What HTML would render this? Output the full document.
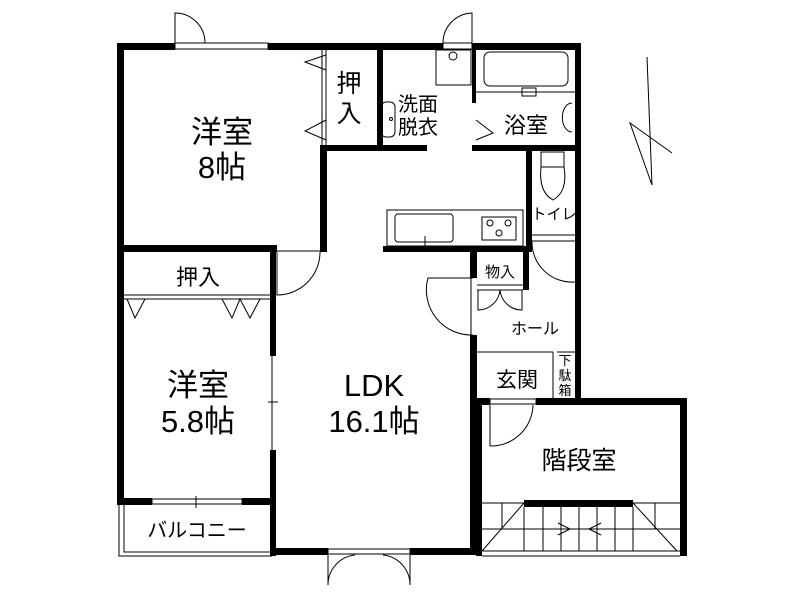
<!DOCTYPE html>
<html><head><meta charset="utf-8"><style>
html,body{margin:0;padding:0;background:#fff;}
svg{display:block;}
text{font-family:"Liberation Sans","Noto Sans CJK JP",sans-serif;fill:#000;}
</style></head><body>
<svg width="800" height="600" viewBox="0 0 800 600" xmlns="http://www.w3.org/2000/svg">
<g fill="#000" stroke="none">
<!-- top wall -->
<rect x="117" y="43" width="58" height="7"/>
<rect x="268" y="43" width="175" height="7"/>
<rect x="472" y="43" width="109" height="7"/>
<!-- left wall -->
<rect x="117" y="43" width="7" height="460"/>
<!-- 8帖 right wall -->
<rect x="320" y="145" width="7" height="107"/>
<!-- closet inner wall -->
<rect x="377" y="43" width="6" height="106"/>
<!-- horiz wall under closet / 洗面 -->
<rect x="320" y="145" width="5" height="6"/>
<rect x="325" y="145" width="102" height="6"/>
<rect x="472" y="145" width="109" height="6"/>
<rect x="472" y="43" width="4" height="60"/>
<!-- right walls -->
<rect x="575" y="43" width="6" height="357"/>
<!-- 洋室8 bottom wall -->
<rect x="117" y="245" width="160" height="7"/>
<!-- 5.8 right wall -->
<rect x="270" y="250" width="6" height="106"/>
<rect x="270" y="450" width="6" height="106"/>
<!-- 5.8 bottom wall -->
<rect x="117" y="498" width="35" height="7"/>
<rect x="242" y="498" width="34" height="7"/>
<!-- LDK bottom -->
<rect x="270" y="548" width="58" height="7"/>
<rect x="410" y="548" width="70" height="7"/>
<!-- LDK right wall -->
<rect x="470" y="250" width="7" height="28"/>
<rect x="470" y="335" width="7" height="220"/>
<!-- kitchen bottom wall -->
<rect x="383" y="246" width="148" height="6"/>
<!-- toilet left wall -->
<rect x="526" y="145" width="6" height="107"/>
<!-- 物入 right -->
<rect x="523" y="250" width="6" height="40"/>
<!-- stair top wall -->
<rect x="476" y="398" width="14" height="7"/>
<rect x="536" y="398" width="150" height="7"/>
<rect x="680" y="398" width="7" height="158"/>
<rect x="476" y="398" width="6" height="158"/>
<!-- stair bar -->
<rect x="524" y="500" width="109" height="7"/>
</g>
<g fill="none" stroke="#000" stroke-width="1">
<!-- top window & doors -->
<rect x="175" y="43" width="93" height="6"/>
<path d="M175 43 V13 A30 30 0 0 1 205 43"/>
<rect x="443" y="43" width="29" height="6"/>
<path d="M472 43 V13 A30 30 0 0 0 443 43"/>
<!-- closet sliding doors 8 -->
<line x1="322" y1="50" x2="322" y2="145"/>
<line x1="326" y1="50" x2="326" y2="145"/>
<path d="M326 55 L305 62 L326 70"/>
<path d="M326 120 L305 131 L326 140"/>
<!-- 洗面 -->
<rect x="436" y="50" width="35" height="35"/>
<circle cx="453" cy="56" r="4"/>
<rect x="381" y="102" width="14" height="35" rx="5"/>
<circle cx="391" cy="119" r="1.5"/>
<line x1="383" y1="147" x2="427" y2="147" stroke-dasharray="1,1"/>
<!-- bath -->
<rect x="484" y="52" width="84" height="34" rx="6"/>
<line x1="476" y1="92" x2="575" y2="92"/>
<rect x="522" y="88" width="14" height="8"/>
<path d="M476 120 L493 133 L476 140"/>
<path d="M572 103 A8 12 0 0 0 572 132"/>
<!-- toilet -->
<path d="M541 152 H564 V167 C567 185 562 195 553 200 C544 195 539 185 541 167 Z"/>
<line x1="541" y1="167" x2="564" y2="167"/>
<line x1="532" y1="235" x2="575" y2="235"/>
<line x1="532" y1="241" x2="575" y2="241"/>
<path d="M532 241 A40 40 0 0 0 575 282"/>
<!-- kitchen -->
<rect x="387" y="210" width="136" height="36"/>
<rect x="395" y="214" width="58" height="28" rx="3"/>
<line x1="425" y1="236" x2="425" y2="246"/>
<rect x="482" y="217" width="34" height="23"/>
<circle cx="490" cy="223" r="3"/><circle cx="508" cy="223" r="3"/><circle cx="499" cy="233" r="3"/>
<!-- 8 room door -->
<line x1="277" y1="251" x2="320" y2="251"/>
<path d="M277 252 V295 A43 43 0 0 0 320 252"/>
<!-- 押入 lower -->
<line x1="124" y1="295" x2="270" y2="295"/>
<line x1="124" y1="299" x2="270" y2="299"/>
<path d="M127 299 L135 318 L145 299"/>
<path d="M222 299 L232 318 L240 299 L250 318 L260 299"/>
<!-- sliding between 5.8 and LDK -->
<line x1="272" y1="356" x2="272" y2="450"/>
<line x1="268" y1="402" x2="278" y2="402"/>
<!-- balcony -->
<rect x="152" y="499" width="90" height="5"/>
<line x1="196" y1="496" x2="196" y2="508"/>
<path d="M124 505 V552 H270"/>
<path d="M119 505 V556 H272"/>
<!-- LDK bottom door -->
<rect x="328" y="549" width="82" height="5"/>
<path d="M328 555 V585 A30 30 0 0 1 355 555"/>
<path d="M410 555 V585 A30 30 0 0 0 383 555"/>
<!-- LDK right door -->
<path d="M473 278 H428 A45 45 0 0 0 473 335"/>
<line x1="471" y1="278" x2="471" y2="335"/>
<!-- 物入 doors -->
<line x1="477" y1="285" x2="523" y2="285"/>
<line x1="477" y1="290" x2="523" y2="290"/>
<path d="M478 290 V310 A22 22 0 0 0 500 290"/>
<path d="M522 290 V310 A22 22 0 0 1 500 290"/>
<!-- hall / entrance -->
<line x1="477" y1="352" x2="553" y2="352"/>
<line x1="553" y1="352" x2="553" y2="398"/>
<line x1="557" y1="352" x2="575" y2="352"/>
<!-- stair room door -->
<rect x="490" y="399" width="46" height="5"/>
<path d="M490 405 V446 A42 42 0 0 0 533 405"/>
<!-- stairs -->
<line x1="482" y1="503" x2="680" y2="503"/>
<line x1="482" y1="529" x2="680" y2="529"/>
<line x1="482" y1="551" x2="680" y2="551"/>
<line x1="482" y1="556" x2="680" y2="556"/>
<line x1="502" y1="503" x2="502" y2="529"/>
<line x1="655" y1="503" x2="655" y2="529"/>
<path d="M543 507V551 M561 507V551 M579 507V551 M597 507V551 M615 507V551 M524 507V551 M633 507V551"/>
<path d="M524 503 L482 551 M633 503 L677 551"/>
<path d="M558 523 L570 529 L558 535 M570 529 H555"/>
<path d="M601 523 L589 529 L601 535 M589 529 H605"/>
<!-- north arrow -->
<path d="M647 57 L652 185 L630 123 L672 153"/>
</g>
<g>
<text x="222" y="143" font-size="31" text-anchor="middle">洋室</text>
<text x="222" y="178" font-size="31" text-anchor="middle">8帖</text>
<text x="349" y="92" font-size="25" text-anchor="middle">押</text>
<text x="349" y="122" font-size="25" text-anchor="middle">入</text>
<text x="418" y="111" font-size="20" text-anchor="middle">洗面</text>
<text x="418" y="134" font-size="20" text-anchor="middle">脱衣</text>
<text x="526" y="133" font-size="22" text-anchor="middle">浴室</text>
<text x="554" y="219" font-size="15" text-anchor="middle">トイレ</text>
<text x="198" y="285" font-size="22" text-anchor="middle">押入</text>
<text x="500" y="277" font-size="15" text-anchor="middle">物入</text>
<text x="535" y="334" font-size="16" text-anchor="middle">ホール</text>
<text x="517" y="387" font-size="21" text-anchor="middle">玄関</text>
<text x="565" y="365" font-size="13" text-anchor="middle">下</text>
<text x="565" y="380" font-size="13" text-anchor="middle">駄</text>
<text x="565" y="395" font-size="13" text-anchor="middle">箱</text>
<text x="198" y="396" font-size="31" text-anchor="middle">洋室</text>
<text x="198" y="432" font-size="31" text-anchor="middle">5.8帖</text>
<text x="374" y="396" font-size="31" text-anchor="middle">LDK</text>
<text x="374" y="432" font-size="31" text-anchor="middle">16.1帖</text>
<text x="579" y="469" font-size="25" text-anchor="middle">階段室</text>
<text x="197" y="537" font-size="20" text-anchor="middle">バルコニー</text>
</g>
</svg>
</body></html>
